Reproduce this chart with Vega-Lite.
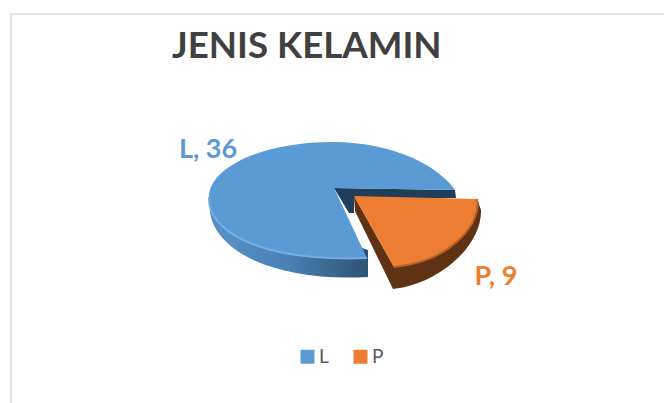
{"$schema":"https://vega.github.io/schema/vega-lite/v6.json","width":655,"height":391,"autosize":"none","padding":{"left":11,"top":14,"right":0,"bottom":0},"background":"white","view":{"stroke":"#e2e2e2","strokeWidth":2},"title":{"text":"JENIS KELAMIN","font":"Lato","fontSize":36.7,"fontWeight":"bold","color":"#404040","anchor":"start","offset":-52,"dx":161},"data":{"values":[{"category":"L","value":36,"label":"L, 36"},{"category":"P","value":9,"label":"P, 9"}]},"resolve":{"scale":{"x":"independent","y":"independent"}},"layer":[{"transform":[{"filter":"datum.category==='L'"}],"mark":{"type":"point","filled":true,"opacity":1,"size":4,"strokeWidth":0,"fill":"#1f3e5a","shape":"M2,-2L123,0L124,8L22,8L22,23L17,23Z"},"encoding":{"x":{"field":"category","type":"nominal","axis":null,"scale":{"type":"point","padding":0,"domain":["L","P"],"range":[321,343]}},"y":{"field":"category","type":"nominal","axis":null,"scale":{"type":"point","padding":0,"domain":["L","P"],"range":[176,182]}}}},{"transform":[{"filter":"datum.category==='L'"}],"mark":{"type":"point","filled":true,"opacity":1,"size":4,"strokeWidth":0,"fill":{"gradient":"linear","x1":0,"y1":0,"x2":1,"y2":0,"stops":[{"offset":0,"color":"#5a92c8"},{"offset":0.5,"color":"#4a80b4"},{"offset":1,"color":"#2c5372"}]},"shape":"M-123,7L-122,23C-115,65 -50,92 36,87L36,60L-123,7Z"},"encoding":{"x":{"field":"category","type":"nominal","axis":null,"scale":{"type":"point","padding":0,"domain":["L","P"],"range":[321,343]}},"y":{"field":"category","type":"nominal","axis":null,"scale":{"type":"point","padding":0,"domain":["L","P"],"range":[176,182]}}}},{"transform":[{"filter":"datum.category==='L'"}],"mark":{"type":"point","filled":true,"opacity":1,"size":4,"strokeWidth":0,"shape":"M2,-2L123,0C108,-22 65,-48 0,-48C-70,-48 -123,-22 -123,7C-125,42 -70,72 35,68Z"},"encoding":{"color":{"field":"category","type":"nominal","scale":{"domain":["L","P"],"range":["#5b9bd5","#ed7d31"]},"legend":{"title":null,"orient":"none","legendX":287,"legendY":333,"direction":"horizontal","symbolType":"square","symbolSize":196,"labelFont":"Lato","labelFontSize":19,"labelColor":"#595959","columnPadding":22,"labelOffset":2}},"x":{"field":"category","type":"nominal","axis":null,"scale":{"type":"point","padding":0,"domain":["L","P"],"range":[321,343]}},"y":{"field":"category","type":"nominal","axis":null,"scale":{"type":"point","padding":0,"domain":["L","P"],"range":[176,182]}}}},{"transform":[{"filter":"datum.category==='L'"}],"mark":{"type":"point","filled":false,"opacity":1,"size":4,"strokeWidth":2,"stroke":"#74aee3","shape":"M-123,7C-125,42 -70,72 35,68"},"encoding":{"x":{"field":"category","type":"nominal","axis":null,"scale":{"type":"point","padding":0,"domain":["L","P"],"range":[321,343]}},"y":{"field":"category","type":"nominal","axis":null,"scale":{"type":"point","padding":0,"domain":["L","P"],"range":[176,182]}}}},{"transform":[{"filter":"datum.category==='P'"}],"mark":{"type":"point","filled":true,"opacity":1,"size":4,"strokeWidth":0,"fill":"#5f3213","shape":"M0,0L1,15L39,93C85,88 128,50 127,14L123,3L40,71Z"},"encoding":{"x":{"field":"category","type":"nominal","axis":null,"scale":{"type":"point","padding":0,"domain":["L","P"],"range":[321,343]}},"y":{"field":"category","type":"nominal","axis":null,"scale":{"type":"point","padding":0,"domain":["L","P"],"range":[176,182]}}}},{"transform":[{"filter":"datum.category==='P'"}],"mark":{"type":"point","filled":true,"opacity":1,"size":4,"strokeWidth":0,"shape":"M0,0L123,3C128,25 100,65 40,71Z"},"encoding":{"color":{"field":"category","type":"nominal","scale":{"domain":["L","P"],"range":["#5b9bd5","#ed7d31"]},"legend":null},"x":{"field":"category","type":"nominal","axis":null,"scale":{"type":"point","padding":0,"domain":["L","P"],"range":[321,343]}},"y":{"field":"category","type":"nominal","axis":null,"scale":{"type":"point","padding":0,"domain":["L","P"],"range":[176,182]}}}},{"transform":[{"filter":"datum.category==='P'"}],"mark":{"type":"point","filled":false,"opacity":1,"size":4,"strokeWidth":2,"stroke":"#b9622a","shape":"M123,3C128,25 100,65 40,71"},"encoding":{"x":{"field":"category","type":"nominal","axis":null,"scale":{"type":"point","padding":0,"domain":["L","P"],"range":[321,343]}},"y":{"field":"category","type":"nominal","axis":null,"scale":{"type":"point","padding":0,"domain":["L","P"],"range":[176,182]}}}},{"mark":{"type":"text","font":"Lato","fontWeight":"bold","fontSize":27,"align":"center","baseline":"alphabetic"},"encoding":{"text":{"field":"label","type":"nominal"},"color":{"field":"category","type":"nominal","scale":{"domain":["L","P"],"range":["#5b9bd5","#ed7d31"]},"legend":null},"x":{"field":"category","type":"nominal","axis":null,"scale":{"type":"point","padding":0,"domain":["L","P"],"range":[197,485]}},"y":{"field":"category","type":"nominal","axis":null,"scale":{"type":"point","padding":0,"domain":["L","P"],"range":[144,271]}}}}]}
